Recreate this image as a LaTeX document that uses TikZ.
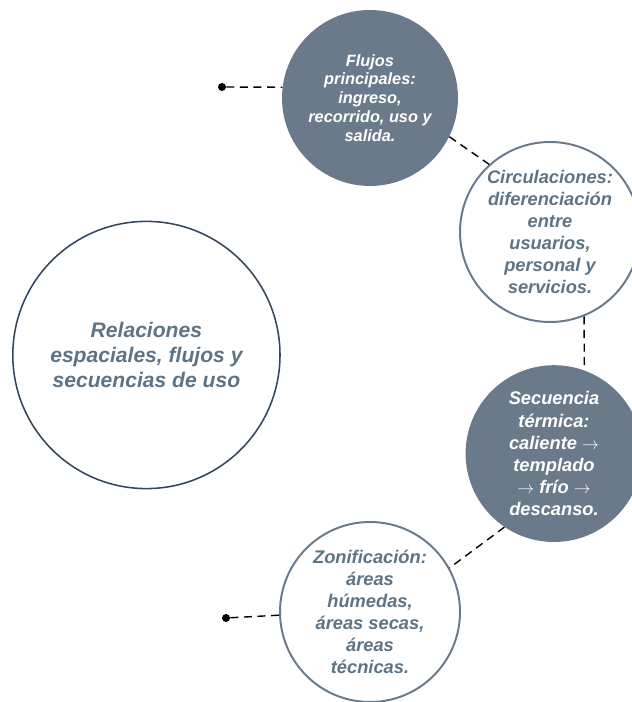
\documentclass[tikz,border=0pt]{standalone}
\usepackage{fontspec}
\setmainfont{Liberation Sans}
\usetikzlibrary{calc}
\definecolor{slate}{HTML}{6B7A8A}
\definecolor{slatetext}{HTML}{5E7484}
\definecolor{navyline}{HTML}{34465A}
\tikzset{
	bubble/.style={circle, inner sep=0pt, align=center, font=\bfseries\itshape\fontsize{13}{15.7}\selectfont},
	darkbubble/.style={bubble, fill=slate, text=white},
	lightbubble/.style={bubble, draw=slate, line width=1.4pt, fill=white, text=slatetext},
	conn/.style={line width=1pt, dash pattern=on 2mm off 1.4mm},
	endpoint/.style={circle, fill=black, inner sep=0pt, minimum size=2mm}
}

\begin{document}
\begin{tikzpicture}
			%%%%% START %%%%%
			\useasboundingbox (0, 0) rectangle (15.8, 17.55);
			
			\node[circle, draw=navyline, line width=1.1pt, minimum size=6.68cm, inner sep=0pt, align=center, text=slatetext, font=\bfseries\itshape\fontsize{15}{17.8}\selectfont] (main) at (3.66, 8.675) {Relaciones\\espaciales, flujos y\\secuencias de uso};
			
			\node[darkbubble, minimum size=4.4cm, font=\bfseries\itshape\fontsize{11.6}{13.4}\selectfont] (flujos) at (9.25, 15.1) {Flujos\\principales:\\ingreso,\\recorrido, uso y\\salida.};
			\node[lightbubble, minimum size=4.5cm] (circul) at (13.75, 11.75) {Circulaciones:\\diferenciación\\entre\\usuarios,\\personal y\\servicios.};
			\node[darkbubble, minimum size=4.42cm] (secuen) at (13.85, 6.21) {Secuencia\\térmica:\\caliente $\rightarrow$\\templado\\$\rightarrow$ frío $\rightarrow$\\descanso.};
			\node[lightbubble, minimum size=4.5cm] (zonif) at (9.25, 2.25) {Zonificación:\\áreas\\húmedas,\\áreas secas,\\áreas\\técnicas.};
			
			\node[endpoint] (ptop) at (5.55, 15.375) {};
			\node[endpoint] (pbot) at (5.65, 2.1) {};
			
			\draw[conn] (ptop) -- (flujos.173);
			\draw[conn] (flujos.-26) -- (circul.132);
			\draw[conn] (circul.-68) -- (secuen.70);
			\draw[conn] (secuen.-124) -- (zonif.29);
			\draw[conn] (pbot) -- (zonif.182);
			
			%%%%% END %%%%%
\end{tikzpicture}
\end{document}
